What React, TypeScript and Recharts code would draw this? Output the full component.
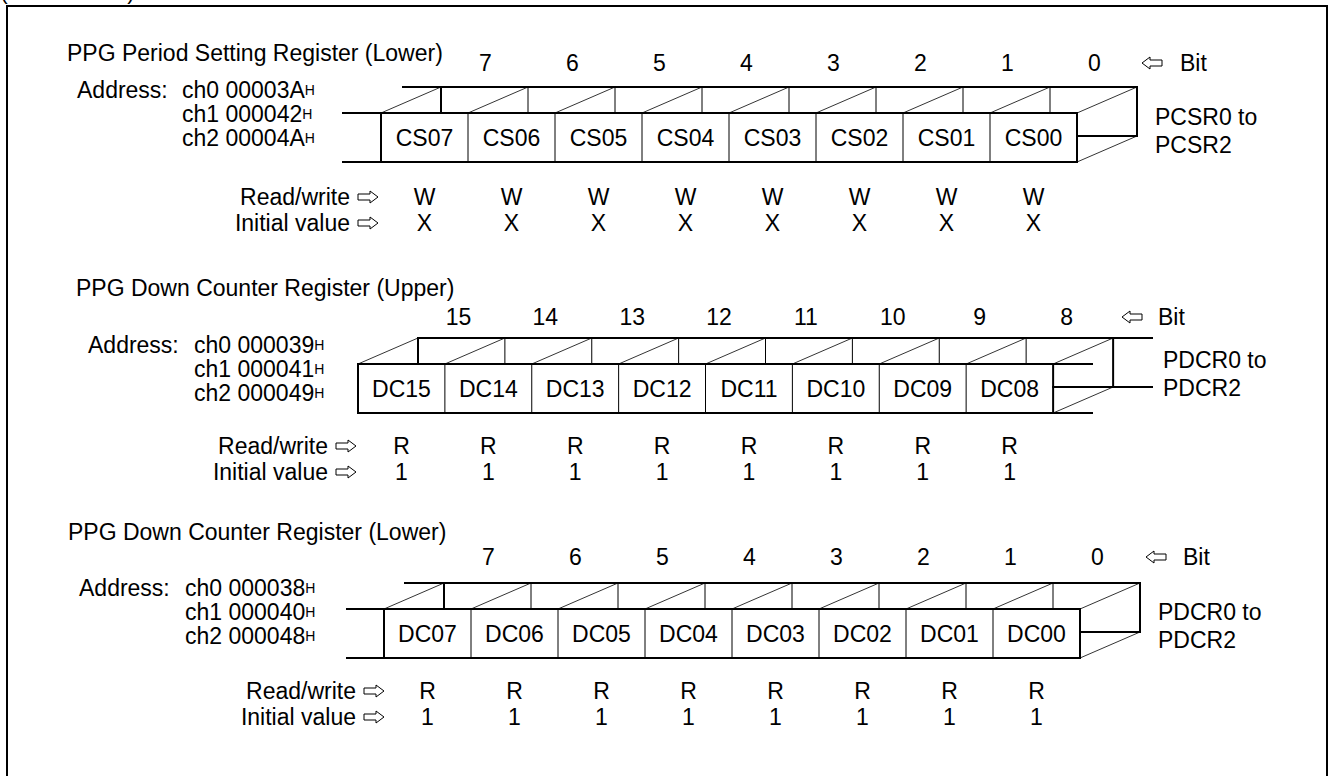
import React from "react";
import { ComposedChart, Bar, Scatter, XAxis, YAxis, Customized } from "recharts";

const W = 1330;
const H = 776;
const FONT = "'Liberation Sans', Arial, sans-serif";
const FS = 23;
const DX = 60; // depth of the drawn box, x
const DY = 26; // depth of the drawn box, y

// PPG Period Setting Register (Lower)
const title1 = "PPG Period Setting Register (Lower)";
const addr1 = ["ch0 00003A", "ch1 000042", "ch2 00004A"];
const regName1 = ["PCSR0 to", "PCSR2"];
const bits1 = ["7", "6", "5", "4", "3", "2", "1", "0"];
const names1 = ["CS07", "CS06", "CS05", "CS04", "CS03", "CS02", "CS01", "CS00"];
const access1 = ["W", "W", "W", "W", "W", "W", "W", "W"];
const init1 = ["X", "X", "X", "X", "X", "X", "X", "X"];

// PPG Down Counter Register (Upper)
const title2 = "PPG Down Counter Register (Upper)";
const addr2 = ["ch0 000039", "ch1 000041", "ch2 000049"];
const regName2 = ["PDCR0 to", "PDCR2"];
const bits2 = ["15", "14", "13", "12", "11", "10", "9", "8"];
const names2 = ["DC15", "DC14", "DC13", "DC12", "DC11", "DC10", "DC09", "DC08"];
const access2 = ["R", "R", "R", "R", "R", "R", "R", "R"];
const init2 = ["1", "1", "1", "1", "1", "1", "1", "1"];

// PPG Down Counter Register (Lower)
const title3 = "PPG Down Counter Register (Lower)";
const addr3 = ["ch0 000038", "ch1 000040", "ch2 000048"];
const regName3 = ["PDCR0 to", "PDCR2"];
const bits3 = ["7", "6", "5", "4", "3", "2", "1", "0"];
const names3 = ["DC07", "DC06", "DC05", "DC04", "DC03", "DC02", "DC01", "DC00"];
const access3 = ["R", "R", "R", "R", "R", "R", "R", "R"];
const init3 = ["1", "1", "1", "1", "1", "1", "1", "1"];

// layout of each register block (pixels)
const layouts = [
  {
    cellLeft: 381, cellRight: 1077, top: 113, bottom: 162,
    titleX: 67, titleY: 53, bitY: 63, bitShift: 61,
    addrX: 77, chX: 182, addrY: [90, 114, 138],
    bitArrowX: 1142, bitTextX: 1180, nameX: 1155, nameY: [117, 145],
    accessY: 197, initY: 223, labelEnd: 350, arrowX: 358,
    leftLead: { back: 403, front: 343 }, rightLead: null as any,
  },
  {
    cellLeft: 358, cellRight: 1053, top: 364, bottom: 413,
    titleX: 76, titleY: 288, bitY: 317, bitShift: 57,
    addrX: 88, chX: 194, addrY: [345, 369, 393],
    bitArrowX: 1122, bitTextX: 1158, nameX: 1163, nameY: [360, 388],
    accessY: 446, initY: 472, labelEnd: 328, arrowX: 336,
    leftLead: null as any, rightLead: { back: 1152, front: 1092 },
  },
  {
    cellLeft: 384, cellRight: 1080, top: 609, bottom: 658,
    titleX: 68, titleY: 532, bitY: 557, bitShift: 61,
    addrX: 79, chX: 185, addrY: [588, 612, 636],
    bitArrowX: 1146, bitTextX: 1183, nameX: 1158, nameY: [612, 640],
    accessY: 691, initY: 717, labelEnd: 356, arrowX: 364,
    leftLead: { back: 405, front: 347 }, rightLead: null as any,
  },
];

const registers = [
  { title: title1, addr: addr1, regName: regName1, bits: bits1, names: names1, access: access1, init: init1 },
  { title: title2, addr: addr2, regName: regName2, bits: bits2, names: names2, access: access2, init: init2 },
  { title: title3, addr: addr3, regName: regName3, bits: bits3, names: names3, access: access3, init: init3 },
];

const buildRows = (reg: any, lay: any) =>
  reg.names.map((name: string, i: number) => ({
    name,
    bit: reg.bits[i],
    access: reg.access[i],
    initial: reg.init[i],
    span: [lay.top, lay.bottom],
    bitY: lay.bitY,
    accessY: lay.accessY,
    initY: lay.initY,
  }));

const txt = {
  fontFamily: FONT,
  fontSize: FS,
  fill: "#000",
};

const L = ({ x1, y1, x2, y2, w = 2 }: any) => (
  <line x1={x1} y1={y1} x2={x2} y2={y2} stroke="#000" strokeWidth={w} strokeLinecap={w > 1 ? "square" : "butt"} />
);

// hollow arrows as drawn in the manual
const LeftArrow = ({ x, y }: any) => (
  <path
    d={`M${x},${y} L${x + 8},${y - 6} L${x + 8},${y - 3} L${x + 20},${y - 3} L${x + 20},${y + 3} L${x + 8},${y + 3} L${x + 8},${y + 6} Z`}
    fill="#fff" stroke="#000" strokeWidth={1}
  />
);
const RightArrow = ({ x, y }: any) => (
  <path
    d={`M${x + 20},${y} L${x + 12},${y - 6} L${x + 12},${y - 3} L${x},${y - 3} L${x},${y + 3} L${x + 12},${y + 3} L${x + 12},${y + 6} Z`}
    fill="#fff" stroke="#000" strokeWidth={1}
  />
);

const CellShape = (props: any) => {
  const { x, y, width, height, index, payload, lay, last } = props;
  const y0 = Math.min(y, y + height);
  const y1 = Math.max(y, y + height);
  const xr = x + width;
  const bt = y0 - DY;
  const bb = y1 - DY;
  const first = index === 0;
  const end = index === last;
  return (
    <g>
      <L x1={x} y1={y0} x2={xr} y2={y0} />
      <L x1={x} y1={y1} x2={xr} y2={y1} />
      <L x1={x} y1={y0} x2={x} y2={y1} w={first ? 2 : 1} />
      <L x1={x + DX} y1={bt} x2={xr + DX} y2={bt} />
      <L x1={x + DX} y1={bt} x2={x + DX} y2={y0} w={first ? 2 : 1} />
      <L x1={x} y1={y0} x2={x + DX} y2={bt} w={0.8} />
      <text x={x + width / 2} y={(y0 + y1) / 2} textAnchor="middle" dominantBaseline="central" style={txt}>
        {payload.name}
      </text>
      {first && lay.leftLead && (
        <g>
          <L x1={lay.leftLead.back} y1={bt} x2={x + DX} y2={bt} />
          <L x1={lay.leftLead.front} y1={y0} x2={x} y2={y0} />
          <L x1={lay.leftLead.front} y1={y1} x2={x} y2={y1} />
        </g>
      )}
      {end && (
        <g>
          <L x1={xr} y1={y0} x2={xr} y2={y1} />
          <L x1={xr} y1={y0} x2={xr + DX} y2={bt} w={0.8} />
          <L x1={xr} y1={y1} x2={xr + DX} y2={bb} w={0.8} />
          <L x1={xr + DX} y1={bt} x2={xr + DX} y2={bb} />
          <L x1={xr} y1={bb} x2={lay.rightLead ? lay.rightLead.back : xr + DX} y2={bb} />
          {lay.rightLead && (
            <g>
              <L x1={xr + DX} y1={bt} x2={lay.rightLead.back} y2={bt} />
              <L x1={xr} y1={y0} x2={lay.rightLead.front} y2={y0} />
              <L x1={xr} y1={y1} x2={lay.rightLead.front} y2={y1} />
            </g>
          )}
        </g>
      )}
    </g>
  );
};

const RegisterText = ({ reg, lay }: any) => (
  <g>
    <text x={lay.titleX} y={lay.titleY} dominantBaseline="central" style={txt}>{reg.title}</text>
    <text x={lay.addrX} y={lay.addrY[0]} dominantBaseline="central" style={txt}>Address:</text>
    {reg.addr.map((a: string, i: number) => (
      <text key={a} x={lay.chX} y={lay.addrY[i]} dominantBaseline="central" style={txt}>
        {a}
        <tspan fontSize={14}>H</tspan>
      </text>
    ))}
    <LeftArrow x={lay.bitArrowX} y={lay.bitY} />
    <text x={lay.bitTextX} y={lay.bitY} dominantBaseline="central" style={txt}>Bit</text>
    {reg.regName.map((n: string, i: number) => (
      <text key={n} x={lay.nameX} y={lay.nameY[i]} dominantBaseline="central" style={txt}>{n}</text>
    ))}
    <text x={lay.labelEnd} y={lay.accessY} textAnchor="end" dominantBaseline="central" style={txt}>Read/write</text>
    <RightArrow x={lay.arrowX} y={lay.accessY} />
    <text x={lay.labelEnd} y={lay.initY} textAnchor="end" dominantBaseline="central" style={txt}>Initial value</text>
    <RightArrow x={lay.arrowX} y={lay.initY} />
  </g>
);

const Frame = () => (
  <g>
    <text x={0} y={-1} style={txt} textLength={135} lengthAdjust="spacing">(Continued)</text>
    <L x1={7} y1={6} x2={1327} y2={6} />
    <L x1={7} y1={6} x2={7} y2={H + 10} />
    <L x1={1327} y1={6} x2={1327} y2={H + 10} />
  </g>
);

const RegisterChart = ({ reg, lay, withFrame }: any) => {
  const rows = buildRows(reg, lay);
  const last = rows.length - 1;
  return (
    <div style={{ position: "absolute", left: 0, top: 0 }}>
      <ComposedChart
        width={W}
        height={H}
        data={rows}
        margin={{ top: 0, right: 0, bottom: 0, left: 0 }}
        barCategoryGap={0}
        barGap={0}
      >
        <XAxis
          dataKey="name"
          type="category"
          hide
          padding={{ left: lay.cellLeft, right: W - lay.cellRight }}
        />
        <YAxis type="number" domain={[0, H]} reversed hide />
        {withFrame && <Customized component={<Frame />} />}
        <Customized component={<RegisterText reg={reg} lay={lay} />} />
        <Bar
          dataKey="span"
          isAnimationActive={false}
          shape={(p: any) => <CellShape {...p} lay={lay} last={last} />}
        />
        <Scatter
          dataKey="bitY"
          isAnimationActive={false}
          shape={(p: any) => (
            <text x={p.cx + lay.bitShift} y={p.cy} textAnchor="middle" dominantBaseline="central" style={txt}>
              {p.payload.bit}
            </text>
          )}
        />
        <Scatter
          dataKey="accessY"
          isAnimationActive={false}
          shape={(p: any) => (
            <text x={p.cx} y={p.cy} textAnchor="middle" dominantBaseline="central" style={txt}>
              {p.payload.access}
            </text>
          )}
        />
        <Scatter
          dataKey="initY"
          isAnimationActive={false}
          shape={(p: any) => (
            <text x={p.cx} y={p.cy} textAnchor="middle" dominantBaseline="central" style={txt}>
              {p.payload.initial}
            </text>
          )}
        />
      </ComposedChart>
    </div>
  );
};

export default function App() {
  return (
    <div
      style={{
        position: "absolute",
        left: 0,
        top: 0,
        width: W,
        height: H,
        overflow: "hidden",
        background: "#fff",
      }}
    >
      {registers.map((reg, i) => (
        <RegisterChart key={reg.title} reg={reg} lay={layouts[i]} withFrame={i === 0} />
      ))}
    </div>
  );
}
